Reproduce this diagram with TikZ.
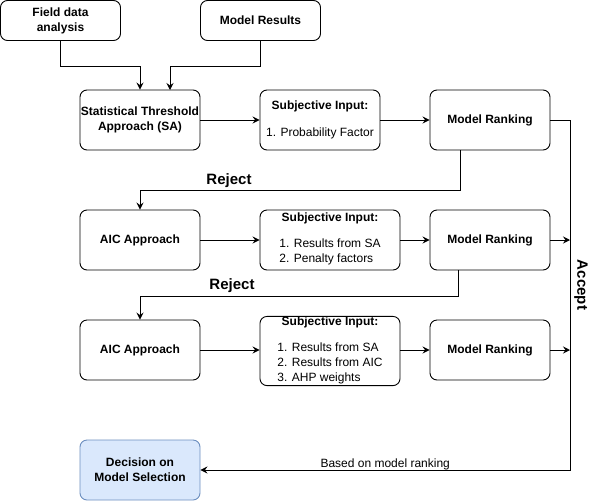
\documentclass[tikz,border=0pt]{standalone}
\usepackage{fontspec}
\setmainfont{Liberation Sans}
\usetikzlibrary{arrows.meta}
\definecolor{decfill}{HTML}{DAE8FC}
\definecolor{decline}{HTML}{6C8EBF}
\begin{document}
\begin{tikzpicture}[x=1pt, y=-1pt,
        box/.style={draw, rounded corners=7pt, line width=0.9pt, inner sep=0pt,
            minimum width=120pt, minimum height=60pt, align=center,
            font=\fontsize{12}{15}\selectfont\bfseries},
        subjbox/.style={box, font=\fontsize{12}{15}\selectfont},
        arr/.style={-{Stealth[length=7pt, width=7pt, inset=2.5pt]}, line width=0.9pt},
        lab/.style={font=\fontsize{15}{17}\selectfont\bfseries, inner sep=0pt}]
            \useasboundingbox (0, 0) rectangle (599, 501);

            % top inputs
            \node[box, minimum height=40pt] (field) at (60.5, 20.5) {Field data\\analysis};
            \node[box, minimum height=40pt] (results) at (260.5, 20.5) {Model Results};

            % first row
            \node[box] (sa) at (140, 120) {Statistical Threshold\\Approach (SA)};
            \node[subjbox] (subj1) at (320, 120) {\textbf{Subjective Input:}\\[12pt]
                1. Probability Factor};
            \node[box] (rank1) at (490, 120) {Model Ranking};

            % second row
            \node[box] (aic1) at (140, 240) {AIC Approach};
            \node[subjbox, minimum width=140pt] (subj2) at (330, 240) {\textbf{Subjective Input:}\\[12pt]
                \begin{tabular}{@{}l@{}}1. Results from SA\\2. Penalty factors\end{tabular}};
            \node[box] (rank2) at (490, 240) {Model Ranking};

            % third row
            \node[box] (aic2) at (140, 350) {AIC Approach};
            \node[subjbox, minimum width=140pt, minimum height=69pt] (subj3) at (330, 351) {\textbf{Subjective Input:}\\[12pt]
                \begin{tabular}{@{}l@{}}1. Results from SA\\2. Results from AIC\\3. AHP weights\end{tabular}};
            \node[box] (rank3) at (490, 350) {Model Ranking};

            % decision
            \node[box, fill=decfill, draw=decline] (decision) at (140, 470) {Decision on\\Model Selection};

            \coordinate (saIn) at (170, 90);
            \coordinate (rej1) at (460, 150);
            \coordinate (rej2) at (458, 270);
            \coordinate (acc2) at (570, 240);
            \coordinate (acc3) at (570, 350);
            \coordinate (accEnd) at (570, 470);

            \draw[arr] (field.south) -- ++(0, 25) -| (sa.north);
            \draw[arr] (results.south) -- ++(0, 25) -| (saIn);

            \draw[arr] (sa) to (subj1);
            \draw[arr] (subj1) to (rank1);
            \draw[arr] (aic1) to (subj2);
            \draw[arr] (subj2) to (rank2);
            \draw[arr] (aic2.east) -- (aic2.east -| subj3.west);
            \draw[arr] (subj3.east |- rank3.west) -- (rank3.west);
            \draw[arr] (rank2) to (acc2);
            \draw[arr] (rank3) to (acc3);

            % reject paths
            \draw[arr] (rej1) -- ++(0, 40) -| (aic1.north);
            \draw[arr] (rej2) -- ++(0, 26) -| (aic2.north);
            \node[lab] (reject1) at (229, 181) {Reject};
            \node[lab] (reject2) at (232, 286) {Reject};

            % accept path
            \draw[arr] (rank1.east) -| (accEnd) -- (decision.east)
                node[midway, above=0pt, inner sep=0pt, font=\fontsize{12}{14}\selectfont] (based) {Based on model ranking};
            \node[lab, rotate=-90] (accept) at (581, 285) {Accept};
        \end{tikzpicture}
\end{document}
